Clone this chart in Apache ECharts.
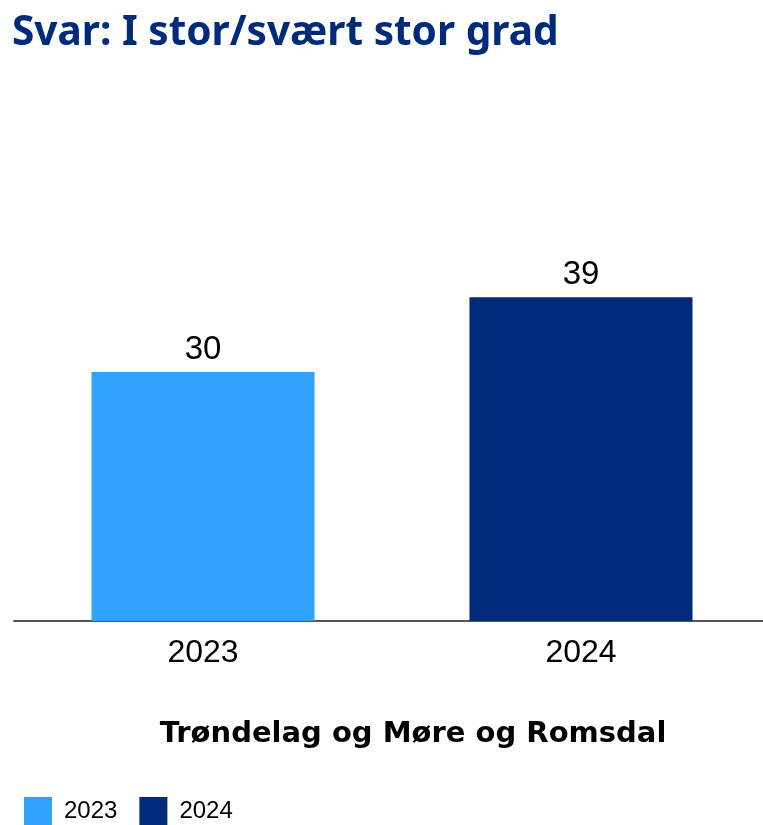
<!DOCTYPE html>
<html>
<head>
<meta charset="utf-8">
<script src="https://cdn.jsdelivr.net/npm/echarts@6/dist/echarts.min.js"></script>
<style>
  html, body { margin: 0; padding: 0; background: #ffffff; overflow: hidden; }
  #chart { width: 772px; height: 825px; }
</style>
</head>
<body>
<div id="chart"></div>
<script>
var categories = ['2023', '2024'];
var values = [30, 39];
var colors = ['#2fa2ff', '#002a7a'];

var myChart = echarts.init(document.getElementById('chart'));
var option = {
  animation: false,
  title: [
    {
      text: 'Svar: I stor/svært stor grad',
      left: 7,
      top: 8,
      textStyle: { color: '#002a7a', fontSize: 40.6, fontWeight: 'bold', fontFamily: 'Noto Sans' }
    },
    {
      text: 'Trøndelag og Møre og Romsdal',
      left: 408,
      textAlign: 'center',
      top: 715,
      textStyle: { color: '#000000', fontSize: 29, fontWeight: 'bold', fontFamily: 'DejaVu Sans' }
    }
  ],
  legend: {
    left: 24,
    top: 797,
    padding: 0,
    itemWidth: 28,
    itemHeight: 28,
    itemGap: 22,
    icon: 'rect',
    data: categories,
    textStyle: { color: '#000000', fontSize: 24, fontFamily: 'Liberation Sans', padding: [0, 0, 0, 7] }
  },
  grid: {
    left: 14,
    width: 756,
    top: 289,
    bottom: 204,
    containLabel: false
  },
  xAxis: {
    type: 'category',
    data: categories,
    axisLine: { lineStyle: { color: '#555555', width: 2 } },
    axisTick: { show: false },
    axisLabel: { color: '#000000', fontSize: 32, fontFamily: 'Liberation Sans', margin: 16 }
  },
  yAxis: {
    type: 'value',
    min: 0,
    max: 40,
    show: false,
    splitLine: { show: false }
  },
  series: [
    {
      type: 'bar',
      barWidth: '59%',
      data: values.map(function (v, i) {
        return { name: categories[i], value: v, itemStyle: { color: colors[i] } };
      }),
      label: {
        show: true,
        position: 'top',
        distance: 6,
        color: '#000000',
        fontSize: 33,
        fontFamily: 'Liberation Sans'
      }
    },
    // empty line series only for the legend entries (no bar slots taken)
    { name: '2023', type: 'line', data: [], itemStyle: { color: colors[0] } },
    { name: '2024', type: 'line', data: [], itemStyle: { color: colors[1] } }
  ]
};
myChart.setOption(option);
</script>
</body>
</html>
